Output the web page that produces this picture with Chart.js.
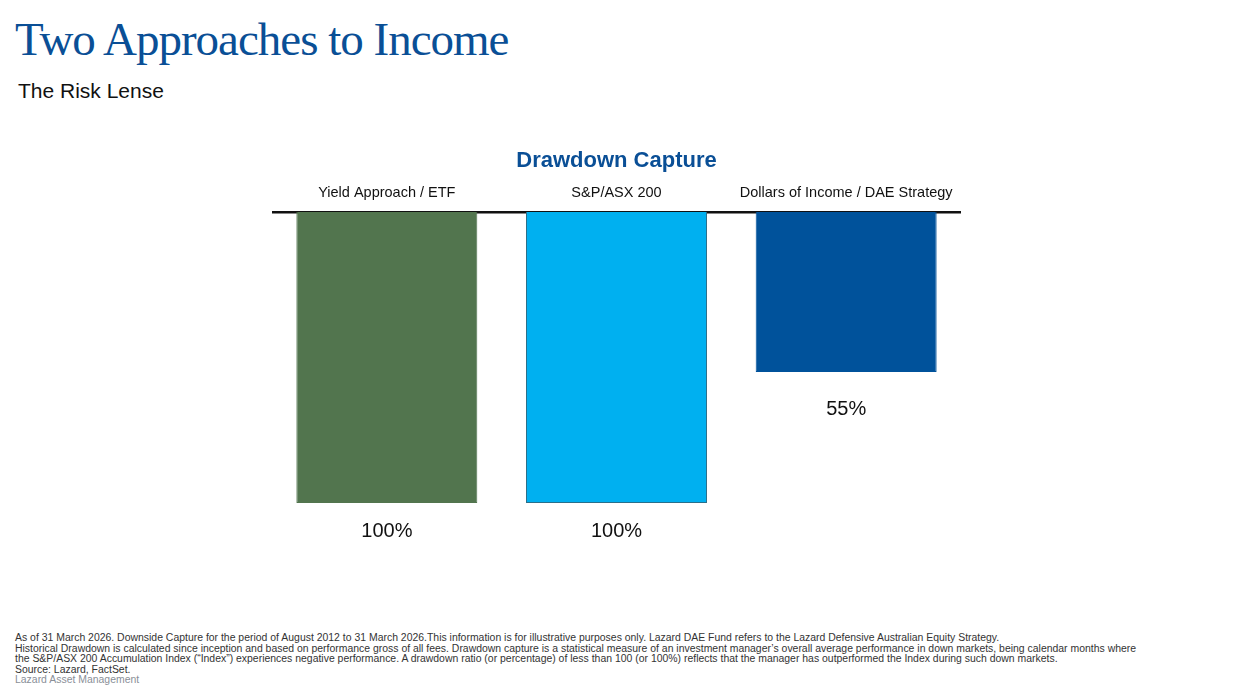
<!DOCTYPE html>
<html><head><meta charset="utf-8">
<script src="https://cdn.jsdelivr.net/npm/chart.js@4"></script>
<style>
body{margin:0;width:1234px;height:699px;background:#fff;position:relative;overflow:hidden;font-family:Arial,"Liberation Sans",sans-serif}
#t{position:absolute;left:15px;top:12px;font-family:"Liberation Serif",serif;font-size:47px;color:#0a4f96;letter-spacing:-1px}
#s{position:absolute;left:18px;top:79px;font-size:21px;color:#111}
#c{position:absolute;left:272px;top:133px;width:689px;height:427px}
#f{position:absolute;left:15px;top:633px;font-size:10.45px;line-height:10.6px;color:#333}
#f .g{color:#8a8f98}
</style></head><body>
<div id="t">Two Approaches to Income</div>
<div id="s">The Risk Lense</div>
<div id="c"><canvas id="cv"></canvas></div>
<div id="f">As of 31 March 2026. Downside Capture for the period of August 2012 to 31 March 2026.This information is for illustrative purposes only. Lazard DAE Fund refers to the Lazard Defensive Australian Equity Strategy.<br>Historical Drawdown is calculated since inception and based on performance gross of all fees. Drawdown capture is a statistical measure of an investment manager’s overall average performance in down markets, being calendar months where<br>the S&amp;P/ASX 200 Accumulation Index (“Index”) experiences negative performance. A drawdown ratio (or percentage) of less than 100 (or 100%) reflects that the manager has outperformed the Index during such down markets.<br>Source: Lazard, FactSet.<br><span class="g">Lazard Asset Management</span></div>
<script>
const categories=["Yield Approach / ETF","S&P/ASX 200","Dollars of Income / DAE Strategy"];
const values=[100,100,55];
const colors=["#52754e","#00b0f0","#00529b"];
const labelsPlugin={id:'vl',afterDatasetsDraw(ch){const c=ch.ctx;const m=ch.getDatasetMeta(0);c.save();c.font='20px Arial';c.fillStyle='#111';c.textAlign='center';c.textBaseline='middle';
m.data.forEach((b,i)=>{c.fillText(values[i]+'%',b.x,b.y+(i==2?38:28));});c.restore();}};
new Chart(document.getElementById('cv'),{type:'bar',
data:{labels:categories,datasets:[{data:values,backgroundColor:colors,borderColor:colors.map((c,i)=>i==1?'#2a6f8a':c),borderWidth:{left:1,right:1,bottom:1,top:0},categoryPercentage:1,barPercentage:0.788}]},
options:{responsive:true,maintainAspectRatio:false,animation:false,
layout:{padding:{bottom:57,left:0,right:0,top:0}},
plugins:{legend:{display:false},tooltip:{enabled:false},
title:{display:true,text:'Drawdown Capture',color:'#0a4f96',font:{size:22,weight:'bold',family:'Arial'},padding:{top:15,bottom:0}}},
scales:{x:{position:'top',grid:{display:false,drawTicks:false},border:{color:'#111',width:2.5},ticks:{color:'#111',font:{size:14.5,family:'Arial'},padding:10,maxRotation:0,autoSkip:false},
afterFit(s){s.paddingLeft=0;s.paddingRight=0;}},
y:{reverse:true,min:0,max:100,display:false}}},
plugins:[labelsPlugin]});
</script></body></html>
